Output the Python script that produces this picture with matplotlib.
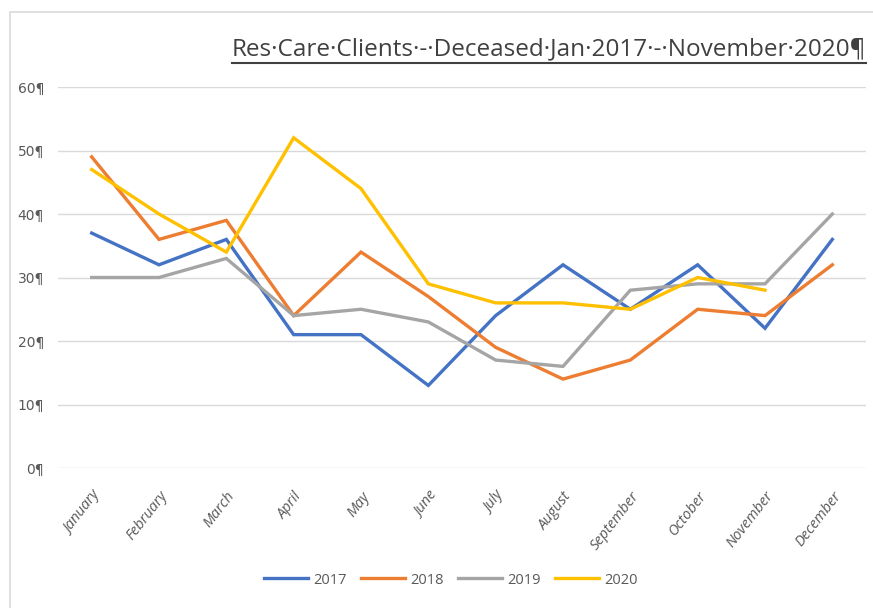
import matplotlib
matplotlib.use("Agg")
import matplotlib.pyplot as plt
from matplotlib.patches import Rectangle
from matplotlib.lines import Line2D

months = ["January", "February", "March", "April", "May", "June", "July",
          "August", "September", "October", "November", "December"]
y2017 = [37, 32, 36, 21, 21, 13, 24, 32, 25, 32, 22, 36]
y2018 = [49, 36, 39, 24, 34, 27, 19, 14, 17, 25, 24, 32]
y2019 = [30, 30, 33, 24, 25, 23, 17, 16, 28, 29, 29, 40]
y2020 = [47, 40, 34, 52, 44, 29, 26, 26, 25, 30, 28]
yticks = [0, 10, 20, 30, 40, 50, 60]
ytick_labels = ["0¶", "10¶", "20¶", "30¶", "40¶", "50¶", "60¶"]
title = "Res·Care·Clients·-·Deceased·Jan·2017·-·November·2020¶"

W, H = 873, 608
fig = plt.figure(figsize=(W / 100, H / 100), dpi=100)
fig.patch.set_facecolor("white")

# outer frame (left and top edges visible)
fig.add_artist(Rectangle((10 / W, -0.1), 1.2, (H - 12) / H + 0.1,
                         transform=fig.transFigure, fill=False,
                         edgecolor="#D9D9D9", linewidth=1.2))

ax = fig.add_axes([58 / W, (H - 468) / H, (866 - 58) / W, (468 - 87) / H])
colors = ["#4472C4", "#ED7D31", "#A5A5A5", "#FFC000"]
series = [("2017", y2017), ("2018", y2018), ("2019", y2019), ("2020", y2020)]
handles = []
for (lab, vals), c in zip(series, colors):
    ln, = ax.plot(range(len(vals)), vals, color=c, linewidth=2.4, label=lab,
                  solid_joinstyle="miter")
    handles.append(ln)

ax.set_xlim(-0.5, 11.5)
ax.set_ylim(0, 60)
ax.set_yticks(yticks)
ax.set_yticklabels(ytick_labels, fontsize=10, color="#595959",
                   family=["DejaVu Sans"])
ax.set_xticks(range(12))
ax.set_xticklabels(months, rotation=52, ha="right", rotation_mode="anchor",
                   fontsize=10.5, color="#595959", style="italic",
                   family=["Open Sans", "DejaVu Sans"])
ax.grid(axis="y", color="#D9D9D9", linewidth=1)
ax.set_axisbelow(True)
for s in ax.spines.values():
    s.set_visible(False)
ax.tick_params(axis="y", length=0, pad=10)
ax.tick_params(axis="x", length=0, pad=15)

# title, right aligned and underlined
t = fig.text(866 / W, (H - 49) / H, title, ha="right", va="center",
             fontsize=17.5, color="#404040",
             family=["Open Sans", "DejaVu Sans"])
fig.canvas.draw()
bb = t.get_window_extent()
fig.add_artist(Line2D([bb.x0 / W, bb.x1 / W], [(H - 63) / H, (H - 63) / H],
                      transform=fig.transFigure, color="#404040", linewidth=1.5))

fig.legend(handles=handles, loc="center", bbox_to_anchor=(451 / W, (H - 580) / H),
           ncol=4, frameon=False, handlelength=3.0,
           columnspacing=1.0, handletextpad=0.35,
           prop={"family": ["Open Sans", "DejaVu Sans"], "size": 10.5},
           labelcolor="#595959")

fig.savefig("out.png", dpi=100, facecolor="white")
